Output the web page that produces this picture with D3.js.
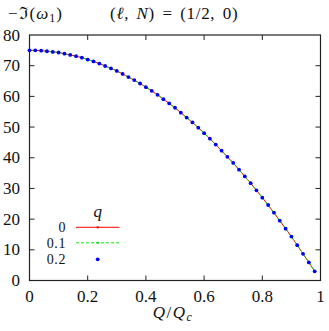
<!DOCTYPE html>
<html lang="en">
<head>
  <meta charset="UTF-8">
  <title>Im omega vs Q/Qc</title>
  <script src="https://d3js.org/d3.v7.min.js"></script>
  <style>
    body { margin: 0; background: #fff; }
    svg { display: block; }
    .frame { fill: none; stroke: #222; stroke-width: 1.2px; }
  </style>
</head>
<body>
<svg width="329" height="331"></svg>
<script>
// Q/Qc sample positions
const qRatio = [0, 0.02, 0.04, 0.06, 0.08, 0.10, 0.12, 0.14, 0.16, 0.18,
  0.20, 0.22, 0.24, 0.26, 0.28, 0.30, 0.32, 0.34, 0.36, 0.38,
  0.40, 0.42, 0.44, 0.46, 0.48, 0.50, 0.52, 0.54, 0.56, 0.58,
  0.60, 0.62, 0.64, 0.66, 0.68, 0.70, 0.72, 0.74, 0.76, 0.78,
  0.80, 0.82, 0.84, 0.86, 0.88, 0.90, 0.92, 0.94, 0.96, 0.98];

// -Im(omega_1) for q = 0, 0.1, 0.2 (curves overlap)
const imQ0 = [75.0, 75.0, 74.9, 74.7, 74.5, 74.3, 73.9, 73.5, 73.1, 72.6,
  72.0, 71.4, 70.7, 69.9, 69.1, 68.3, 67.3, 66.3, 65.3, 64.2,
  63.0, 61.8, 60.5, 59.1, 57.7, 56.3, 54.7, 53.1, 51.5, 49.8,
  48.0, 46.2, 44.3, 42.3, 40.3, 38.3, 36.1, 33.9, 31.7, 29.4,
  27.0, 24.6, 22.1, 19.5, 16.9, 14.3, 11.5, 8.7, 5.9, 3.0];
const imQ01 = [75.0, 75.0, 74.9, 74.7, 74.5, 74.3, 73.9, 73.5, 73.1, 72.6,
  72.0, 71.4, 70.7, 69.9, 69.1, 68.3, 67.3, 66.3, 65.3, 64.2,
  63.0, 61.8, 60.5, 59.1, 57.7, 56.3, 54.7, 53.1, 51.5, 49.8,
  48.0, 46.2, 44.3, 42.3, 40.3, 38.3, 36.1, 33.9, 31.7, 29.4,
  27.0, 24.6, 22.1, 19.5, 16.9, 14.3, 11.5, 8.7, 5.9, 3.0];
const imQ02 = [75.0, 75.0, 74.9, 74.7, 74.5, 74.3, 73.9, 73.5, 73.1, 72.6,
  72.0, 71.4, 70.7, 69.9, 69.1, 68.3, 67.3, 66.3, 65.3, 64.2,
  63.0, 61.8, 60.5, 59.1, 57.7, 56.3, 54.7, 53.1, 51.5, 49.8,
  48.0, 46.2, 44.3, 42.3, 40.3, 38.3, 36.1, 33.9, 31.7, 29.4,
  27.0, 24.6, 22.1, 19.5, 16.9, 14.3, 11.5, 8.7, 5.9, 3.0];

const legendLabels = ["0", "0.1", "0.2"];
const xTicks = [0, 0.2, 0.4, 0.6, 0.8, 1];
const xTickLabels = ["0", "0.2", "0.4", "0.6", "0.8", "1"];
const yTicks = [0, 10, 20, 30, 40, 50, 60, 70, 80];

const margin = { left: 29.5, right: 320.5, top: 35, bottom: 280.5 };
const fs = 17;

const svg = d3.select("svg")
  .attr("font-family", "Liberation Serif")
  .attr("font-size", fs)
  .attr("fill", "#111");
const x = d3.scaleLinear().domain([0, 1]).range([margin.left, margin.right]);
const y = d3.scaleLinear().domain([0, 80]).range([margin.bottom, margin.top]);

const tickLen = 5;

// ticks on all four sides, pointing inward
const ticks = svg.append("g").attr("stroke", "#222").attr("stroke-width", 1);
xTicks.slice(1, -1).forEach(t => {
  ticks.append("line").attr("x1", x(t)).attr("x2", x(t))
    .attr("y1", margin.bottom).attr("y2", margin.bottom - tickLen);
  ticks.append("line").attr("x1", x(t)).attr("x2", x(t))
    .attr("y1", margin.top).attr("y2", margin.top + tickLen);
});
yTicks.slice(1, -1).forEach(t => {
  ticks.append("line").attr("y1", y(t)).attr("y2", y(t))
    .attr("x1", margin.left).attr("x2", margin.left + tickLen);
  ticks.append("line").attr("y1", y(t)).attr("y2", y(t))
    .attr("x1", margin.right).attr("x2", margin.right - tickLen);
});

// tick labels
svg.append("g").selectAll("text")
  .data(xTicks)
  .join("text")
  .attr("x", d => x(d))
  .attr("y", 302)
  .attr("text-anchor", "middle")
  .text((d, i) => xTickLabels[i]);

svg.append("g").selectAll("text")
  .data(yTicks)
  .join("text")
  .attr("x", 20)
  .attr("y", d => y(d) + 5.5)
  .attr("text-anchor", "end")
  .text(d => d);

// curves
const pts = vals => qRatio.map((q, i) => [q, vals[i]]);
const line = d3.line().x(d => x(d[0])).y(d => y(d[1]));

svg.append("path")
  .datum(pts(imQ0))
  .attr("d", line)
  .attr("fill", "none")
  .attr("stroke", "#ff0000")
  .attr("stroke-width", 1);
svg.append("g").selectAll("rect")
  .data(pts(imQ0))
  .join("rect")
  .attr("x", d => x(d[0]) - 1).attr("y", d => y(d[1]) - 1)
  .attr("width", 2).attr("height", 2)
  .attr("fill", "#ff0000");

svg.append("path")
  .datum(pts(imQ01))
  .attr("d", line)
  .attr("fill", "none")
  .attr("stroke", "#00ee00")
  .attr("stroke-width", 1)
  .attr("stroke-dasharray", "3,2");
svg.append("g").selectAll("rect")
  .data(pts(imQ01))
  .join("rect")
  .attr("x", d => x(d[0]) - 1).attr("y", d => y(d[1]) - 1)
  .attr("width", 2).attr("height", 2)
  .attr("fill", "#00ee00");

svg.append("g").selectAll("circle")
  .data(pts(imQ02))
  .join("circle")
  .attr("cx", d => x(d[0])).attr("cy", d => y(d[1]))
  .attr("r", 1.9)
  .attr("fill", "#0000ff");

// frame
svg.append("rect")
  .attr("class", "frame")
  .attr("x", margin.left).attr("y", margin.top)
  .attr("width", margin.right - margin.left)
  .attr("height", margin.bottom - margin.top);

// legend
const legend = svg.append("g");
legend.append("text")
  .attr("x", 97.7).attr("y", 217)
  .attr("text-anchor", "middle")
  .attr("font-style", "italic")
  .text("q");
const legRows = [227.3, 242.8, 259.3];
legendLabels.forEach((lab, i) => {
  legend.append("text")
    .attr("x", 66)
    .attr("y", legRows[i] + 4.8)
    .attr("text-anchor", "end")
    .attr("font-size", 14)
    .attr("letter-spacing", 0.6)
    .text(lab);
});
legend.append("line")
  .attr("x1", 76).attr("x2", 119.5).attr("y1", legRows[0]).attr("y2", legRows[0])
  .attr("stroke", "#ff0000").attr("stroke-width", 1);
legend.append("rect")
  .attr("x", 96.7).attr("y", legRows[0] - 1).attr("width", 2).attr("height", 2)
  .attr("fill", "#ff0000");
legend.append("line")
  .attr("x1", 76).attr("x2", 119.5).attr("y1", legRows[1]).attr("y2", legRows[1])
  .attr("stroke", "#00ee00").attr("stroke-width", 1)
  .attr("stroke-dasharray", "3,2");
legend.append("rect")
  .attr("x", 96.7).attr("y", legRows[1] - 1).attr("width", 2).attr("height", 2)
  .attr("fill", "#00ee00");
legend.append("circle")
  .attr("cx", 97.7).attr("cy", legRows[2]).attr("r", 1.9)
  .attr("fill", "#0000ff");

// axis titles
const yTitle = svg.append("text")
  .attr("x", 8).attr("y", 19)
  .attr("letter-spacing", 1);
yTitle.append("tspan").text("\u2212\u2111(");
yTitle.append("tspan").attr("font-style", "italic").text("\u03C9");
yTitle.append("tspan").attr("font-size", 12).attr("dy", 3).text("1");
yTitle.append("tspan").attr("dy", -3).text(")");

const title = svg.append("text")
  .attr("x", 110).attr("y", 19)
  .attr("letter-spacing", 0.7)
  .attr("word-spacing", 2.5);
title.append("tspan").text("(");
title.append("tspan").attr("font-style", "italic").text("\u2113");
title.append("tspan").text(", ");
title.append("tspan").attr("font-style", "italic").text("N");
title.append("tspan").text(") = (1/2, 0)");

const xTitle = svg.append("text")
  .attr("x", 173).attr("y", 318)
  .attr("text-anchor", "middle")
  .attr("letter-spacing", 1.5);
xTitle.append("tspan").attr("font-style", "italic").text("Q");
xTitle.append("tspan").text("/");
xTitle.append("tspan").attr("font-style", "italic").text("Q");
xTitle.append("tspan").attr("font-style", "italic").attr("font-size", 12).attr("dy", 3).text("c");
</script>
</body>
</html>
